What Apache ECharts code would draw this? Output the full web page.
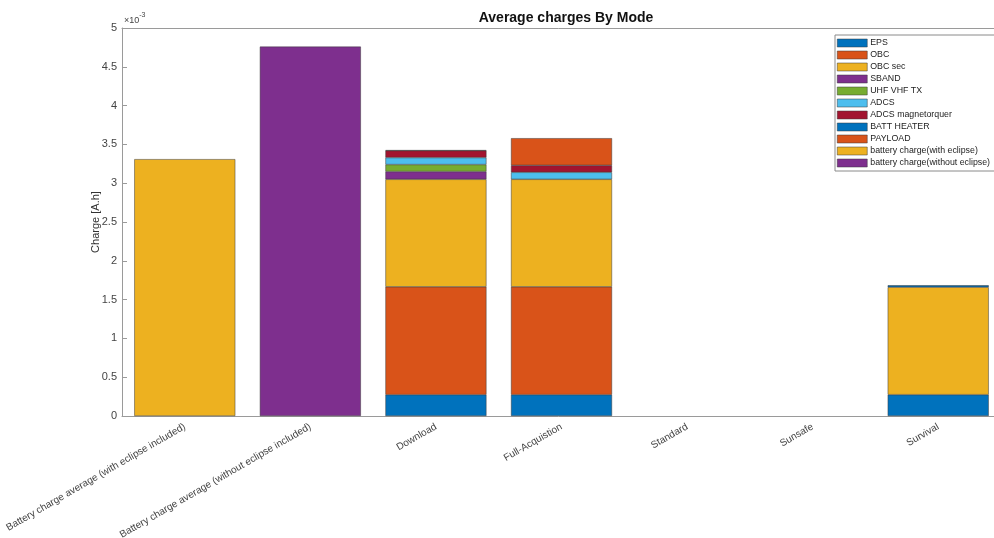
<!DOCTYPE html>
<html>
<head>
<meta charset="utf-8">
<script src="https://cdn.jsdelivr.net/npm/echarts@6/dist/echarts.min.js"></script>
<style>html,body{margin:0;padding:0;background:#fff}#c{width:994px;height:538px}</style>
</head>
<body>
<div id="c"></div>
<script>
// Categories (modes)
var categories = ['Battery charge average (with eclipse included)', 'Battery charge average (without eclipse included)', 'Download', 'Full-Acquistion', 'Standard', 'Sunsafe', 'Survival'];
// Series values in A.h
var EPS          = [0, 0, 0.275e-3, 0.275e-3, 0, 0, 0.275e-3];
var OBC          = [0, 0, 1.39e-3, 1.39e-3, 0, 0, 0];
var OBC_sec      = [0, 0, 1.385e-3, 1.385e-3, 0, 0, 1.385e-3];
var SBAND        = [0, 0, 0.10e-3, 0, 0, 0, 0];
var UHF_VHF_TX   = [0, 0, 0.09e-3, 0, 0, 0, 0];
var ADCS         = [0, 0, 0.09e-3, 0.09e-3, 0, 0, 0];
var ADCS_magnet  = [0, 0, 0.09e-3, 0.09e-3, 0, 0, 0];
var BATT_HEATER  = [0, 0, 0.005e-3, 0, 0, 0, 0.025e-3];
var PAYLOAD      = [0, 0, 0, 0.35e-3, 0, 0, 0];
var batt_with    = [3.31e-3, 0, 0, 0, 0, 0, 0];
var batt_without = [0, 4.76e-3, 0, 0, 0, 0, 0];
var seriesNames = ['EPS', 'OBC', 'OBC sec', 'SBAND', 'UHF VHF TX', 'ADCS', 'ADCS magnetorquer', 'BATT HEATER', 'PAYLOAD', 'battery charge(with eclipse)', 'battery charge(without eclipse)'];
var seriesValues = [EPS, OBC, OBC_sec, SBAND, UHF_VHF_TX, ADCS, ADCS_magnet, BATT_HEATER, PAYLOAD, batt_with, batt_without];
var colors = ['#0072BD', '#D95319', '#EDB120', '#7E2F8E', '#77AC30', '#4DBEEE', '#A2142F', '#0072BD', '#D95319', '#EDB120', '#7E2F8E'];
var yTicks = { min: 0, max: 0.005, interval: 0.0005 };

var chart = echarts.init(document.getElementById('c'), null, { renderer: 'canvas' });
var font = 'Liberation Sans, Arial, Helvetica, sans-serif';
var axisCol = '#9a9a9a';
var series = seriesNames.map(function (n, i) {
  return {
    name: n, type: 'bar', stack: 'all',
    // zero-height segments are not drawn
    data: seriesValues[i].map(function (v) { return v === 0 ? null : v; }),
    barWidth: 101, xAxisIndex: 0, yAxisIndex: 0,
    itemStyle: { color: colors[i], borderColor: '#3a3a3a', borderWidth: 0.5 },
    emphasis: { disabled: true }
  };
});
chart.setOption({
  animation: false,
  color: colors,
  textStyle: { fontFamily: font },
  title: {
    text: 'Average charges By Mode', left: 561, top: 6, textAlign: 'center',
    textStyle: { fontFamily: font, fontSize: 14, fontWeight: 'bold', color: '#111' }
  },
  grid: { left: 122, right: -7, top: 28, bottom: 122, containLabel: false, outerBoundsMode: 'none' },
  legend: {
    orient: 'vertical', left: 835, top: 35, data: seriesNames,
    icon: 'rect', itemWidth: 30, itemHeight: 8, itemGap: 2,
    padding: [3, 6, 3, 2], borderColor: '#8a8a8a', borderWidth: 1, backgroundColor: '#fff',
    itemStyle: { borderColor: '#3a3a3a', borderWidth: 0.5 },
    textStyle: { fontFamily: font, fontSize: 8.8, color: '#222', lineHeight: 10, padding: [0, 0, 0, -2] },
    selectedMode: false
  },
  xAxis: [{
    type: 'category', data: categories, position: 'bottom',
    axisLine: { lineStyle: { color: axisCol, width: 1 } },
    axisTick: { inside: true, alignWithLabel: true, length: 5, lineStyle: { color: axisCol } },
    axisLabel: { interval: 0, rotate: 30, fontSize: 10, color: '#444', margin: 10, fontFamily: font },
    splitLine: { show: false }
  }, {
    type: 'category', data: categories, position: 'top',
    axisLine: { lineStyle: { color: axisCol, width: 1 } },
    axisTick: { inside: true, alignWithLabel: true, length: 5, lineStyle: { color: axisCol } },
    axisLabel: { show: false }, splitLine: { show: false }
  }],
  yAxis: {
    type: 'value', min: yTicks.min, max: yTicks.max, interval: yTicks.interval,
    name: 'Charge [A.h]', nameLocation: 'middle', nameGap: 21, nameRotate: 90, nameMoveOverlap: false,
    nameTextStyle: { fontFamily: font, fontSize: 11, color: '#333' },
    axisLine: { show: true, lineStyle: { color: axisCol, width: 1 } },
    axisTick: { show: true, inside: true, length: 5, lineStyle: { color: axisCol } },
    axisLabel: {
      fontSize: 11, color: '#444', margin: 5, fontFamily: font,
      formatter: function (v) { return String(parseFloat((v * 1000).toFixed(2))); }
    },
    splitLine: { show: false }
  },
  graphic: [{
    type: 'text', left: 124, top: 12,
    style: {
      text: '{a|×10}{b|-3}', fill: '#444',
      rich: {
        a: { fontSize: 9, fontFamily: font, fill: '#444', verticalAlign: 'bottom' },
        b: { fontSize: 7, fontFamily: font, fill: '#444', verticalAlign: 'top', padding: [0, 0, 6, 0] }
      }
    }
  }],
  series: series
});
</script>
</body>
</html>
